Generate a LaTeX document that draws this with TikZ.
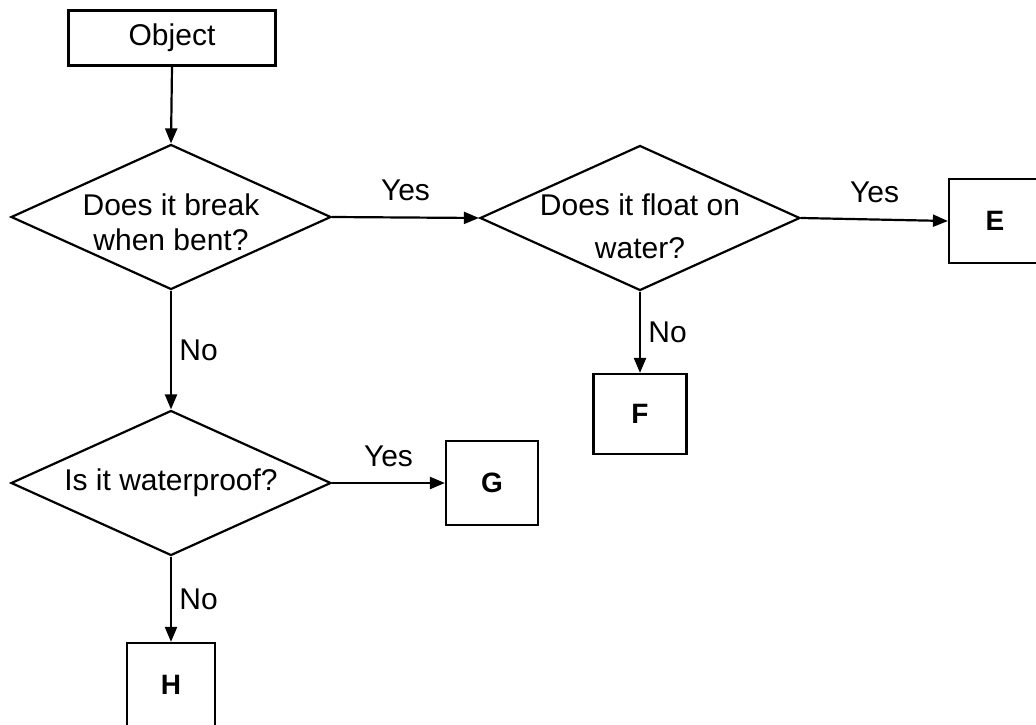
\documentclass[tikz,border=0pt]{standalone}
\usepackage{fontspec}
\setmainfont{Liberation Sans}
\usetikzlibrary{shapes.geometric,arrows.meta}
\tikzset{
  question/.style={draw,line width=2.2pt,diamond,minimum width=320pt,minimum height=145pt,inner sep=0pt},
  asks/.style={align=center,inner sep=0pt},
  letterbox/.style={draw,line width=2.2pt,minimum width=92pt,minimum height=84pt,font=\fontsize{28}{32}\selectfont\bfseries},
  arr/.style={line width=2.2pt,-{Triangle[length=15pt,width=12pt]}}
}
\begin{document}
\begin{tikzpicture}[x=1pt,y=-1pt,font=\fontsize{30}{35}\selectfont]
\useasboundingbox (0,0) rectangle (1036,725);
% start
\node[draw,line width=2.2pt,minimum width=207pt,minimum height=55pt] (object) at (172,38) {Object};
% questions
\node[question,label={[asks,yshift=-5pt]center:Does it break\\when bent?}] (bend) at (171,217) {};
\node[question,label={[asks,yshift=-8pt]center:Does it float on\\[8pt]water?}] (float) at (640,218) {};
\node[question,label={[asks]center:Is it waterproof?}] (wproof) at (171,483) {};
% answers
\node[letterbox] (E) at (995,221) {E};
\node[letterbox,minimum width=93pt,minimum height=80pt] (F) at (640,414) {F};
\node[letterbox] (G) at (492,483) {G};
\node[letterbox,minimum width=88pt] (H) at (171,685) {H};
% arrows
\draw[arr] (object.south) -- (bend.north);
\draw[arr] (bend.east) -- node[above=12pt] {Yes} (float.west);
\draw[arr] (float.east) -- node[above=12pt] {Yes} (E.west);
\draw[arr] (float.south) -- node[right=4pt] {No} (F.north);
\draw[arr] (bend.south) -- node[right=4pt] {No} (wproof.north);
\draw[arr] (wproof.east) -- node[above=12pt] {Yes} (G.west);
\draw[arr] (wproof.south) -- node[right=4pt] {No} (H.north);
\end{tikzpicture}
\end{document}
